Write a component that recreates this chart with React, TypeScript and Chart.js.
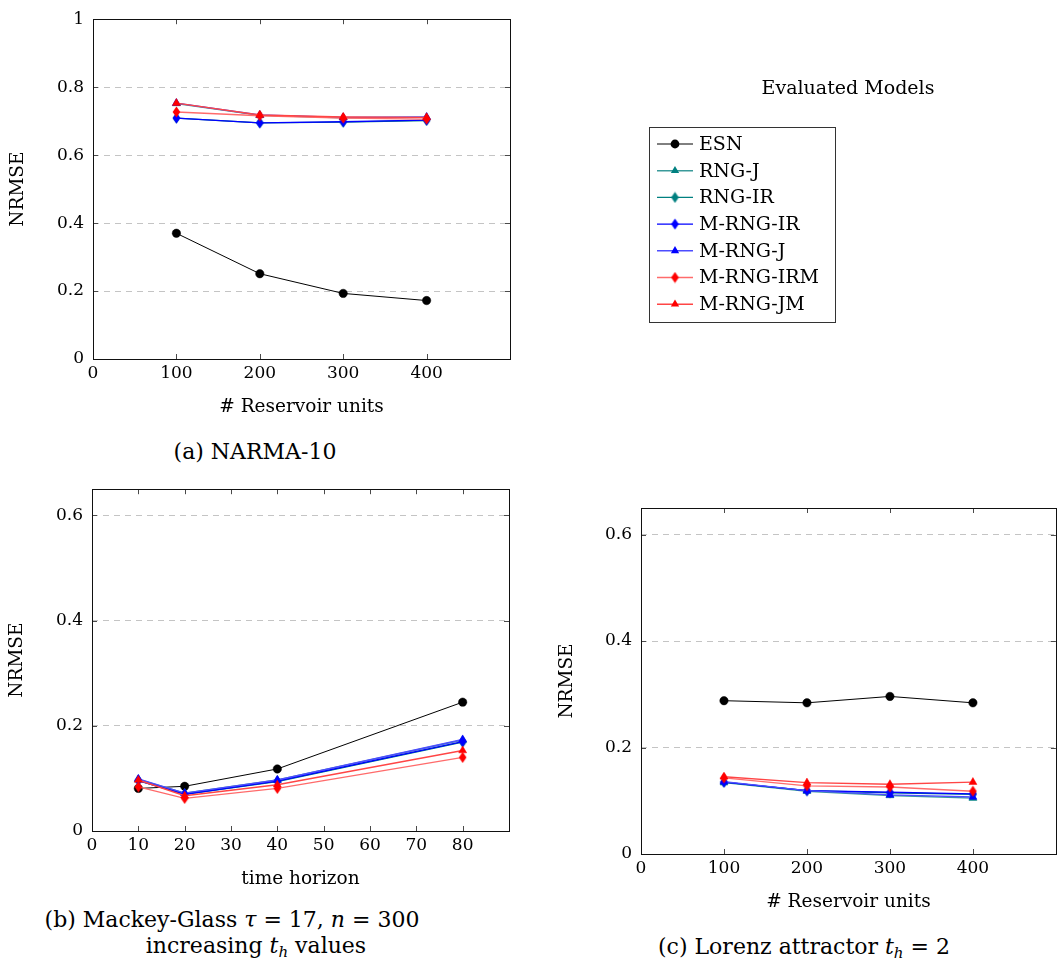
import React, { useEffect, useRef } from 'react';
import { Chart, registerables } from 'chart.js';

Chart.register(...registerables);

// ---------------- DATA ----------------
const SERIES_NAMES = ['ESN', 'RNG-J', 'RNG-IR', 'M-RNG-IR', 'M-RNG-J', 'M-RNG-IRM', 'M-RNG-JM'];

// (a) NARMA-10, x = # reservoir units
const narmaUnits = [100, 200, 300, 400];
const narmaESN = [0.370, 0.251, 0.193, 0.172];
const narmaRNGJ = [0.752, 0.717, 0.710, 0.711];
const narmaRNGIR = [0.709, 0.695, 0.697, 0.702];
const narmaMRNGIR = [0.709, 0.695, 0.698, 0.703];
const narmaMRNGJ = [0.753, 0.718, 0.711, 0.712];
const narmaMRNGIRM = [0.727, 0.716, 0.709, 0.706];
const narmaMRNGJM = [0.753, 0.718, 0.712, 0.711];

// (b) Mackey-Glass, x = time horizon
const mgHorizon = [10, 20, 40, 80];
const mgESN = [0.081, 0.085, 0.118, 0.245];
const mgRNGJ = [0.098, 0.072, 0.097, 0.173];
const mgRNGIR = [0.096, 0.070, 0.094, 0.169];
const mgMRNGIR = [0.096, 0.070, 0.095, 0.170];
const mgMRNGJ = [0.099, 0.072, 0.097, 0.174];
const mgMRNGIRM = [0.084, 0.062, 0.081, 0.140];
const mgMRNGJM = [0.097, 0.067, 0.088, 0.153];

// (c) Lorenz, x = # reservoir units
const lorenzUnits = [100, 200, 300, 400];
const lorenzESN = [0.288, 0.284, 0.296, 0.284];
const lorenzRNGJ = [0.134, 0.118, 0.110, 0.105];
const lorenzRNGIR = [0.135, 0.119, 0.115, 0.112];
const lorenzMRNGIR = [0.135, 0.119, 0.116, 0.113];
const lorenzMRNGJ = [0.136, 0.119, 0.111, 0.107];
const lorenzMRNGIRM = [0.143, 0.128, 0.126, 0.118];
const lorenzMRNGJM = [0.145, 0.134, 0.131, 0.135];

// tick labels
const narmaYTicks = [0, 0.2, 0.4, 0.6, 0.8, 1];
const smallYTicks = [0, 0.2, 0.4, 0.6];
const unitsXTicks = [0, 100, 200, 300, 400];
const horizonXTicks = [0, 10, 20, 30, 40, 50, 60, 70, 80];

// ---------------- STYLES ----------------
const STYLES = [
  { line: '#000000', mark: '#000000', shape: 'circle', width: 1 },
  { line: '#3a9a9a', mark: '#008080', shape: 'triangle', width: 1.4 },
  { line: '#008080', mark: '#008080', shape: 'diamond', width: 1.4 },
  { line: '#0000ff', mark: '#0000ff', shape: 'diamond', width: 1.4 },
  { line: '#4d4dff', mark: '#0000ff', shape: 'triangle', width: 1.4 },
  { line: '#ff6b6b', mark: '#ff0000', shape: 'diamond', width: 1.4 },
  { line: '#ff4545', mark: '#ff0000', shape: 'triangle', width: 1.4 },
];

const FONT = '"DejaVu Serif", "Liberation Serif", serif';
const TICK_SIZE = 17;
const TITLE_SIZE = 18.5;
const LEGEND_SIZE = 19;
const CAPTION_SIZE = 22;

const diamondCache: Record<string, HTMLCanvasElement> = {};
function diamond(color: string): HTMLCanvasElement {
  if (diamondCache[color]) return diamondCache[color];
  const c = document.createElement('canvas');
  c.width = 9;
  c.height = 12;
  const ctx = c.getContext('2d')!;
  ctx.fillStyle = color;
  ctx.beginPath();
  ctx.moveTo(4.5, 0.5);
  ctx.lineTo(8.3, 6);
  ctx.lineTo(4.5, 11.5);
  ctx.lineTo(0.7, 6);
  ctx.closePath();
  ctx.fill();
  diamondCache[color] = c;
  return c;
}

function pointStyleFor(i: number): any {
  const st = STYLES[i];
  return st.shape === 'diamond' ? diamond(st.mark) : st.shape;
}

function drawMarker(ctx: CanvasRenderingContext2D, i: number, x: number, y: number) {
  const st = STYLES[i];
  ctx.fillStyle = st.mark;
  if (st.shape === 'circle') {
    ctx.beginPath();
    ctx.arc(x, y, 4.4, 0, Math.PI * 2);
    ctx.fill();
  } else if (st.shape === 'triangle') {
    const r = 4.8;
    ctx.beginPath();
    for (let k = 0; k < 3; k++) {
      const a = (k * 2 * Math.PI) / 3;
      const px = x + Math.sin(a) * r;
      const py = y - Math.cos(a) * r;
      if (k === 0) ctx.moveTo(px, py);
      else ctx.lineTo(px, py);
    }
    ctx.closePath();
    ctx.fill();
  } else {
    const img = diamond(st.mark);
    ctx.drawImage(img, x - img.width / 2, y - img.height / 2);
  }
}

// ---------------- PLUGINS ----------------
const framePlugin = {
  id: 'pgfFrame',
  afterDraw(chart: any) {
    const { ctx, chartArea: a } = chart;
    const xs = chart.scales.x;
    const ys = chart.scales.y;
    ctx.save();
    ctx.lineWidth = 1;
    ctx.strokeStyle = '#4a4a4a';
    ctx.setLineDash([]);
    const seg = (x1: number, y1: number, x2: number, y2: number) => {
      ctx.beginPath();
      ctx.moveTo(x1, y1);
      ctx.lineTo(x2, y2);
      ctx.stroke();
    };
    for (const t of xs.ticks) {
      const px = Math.round(xs.getPixelForValue(t.value)) + 0.5;
      seg(px, a.bottom, px, a.bottom - 5);
      seg(px, a.top, px, a.top + 5);
    }
    for (const t of ys.ticks) {
      const py = Math.round(ys.getPixelForValue(t.value)) + 0.5;
      seg(a.left, py, a.left + 5, py);
      seg(a.right, py, a.right - 5, py);
    }
    ctx.strokeStyle = '#111111';
    ctx.strokeRect(Math.round(a.left) + 0.5, Math.round(a.top) + 0.5, Math.round(a.right - a.left), Math.round(a.bottom - a.top));
    ctx.restore();
  },
};

const legendPlugin = {
  id: 'pgfLegend',
  afterDraw(chart: any) {
    const ctx: CanvasRenderingContext2D = chart.ctx;
    ctx.save();
    ctx.font = `${LEGEND_SIZE}px ${FONT}`;
    ctx.fillStyle = '#000';
    ctx.textBaseline = 'middle';
    ctx.textAlign = 'center';
    ctx.fillText('Evaluated Models', 848, 89);
    ctx.strokeStyle = '#333';
    ctx.lineWidth = 1;
    ctx.strokeRect(649.5, 127.5, 186, 195);
    ctx.textAlign = 'left';
    chart.data.datasets.forEach((ds: any, i: number) => {
      const y = 144 + i * 26.7;
      ctx.strokeStyle = STYLES[i].line;
      ctx.lineWidth = STYLES[i].width;
      ctx.beginPath();
      ctx.moveTo(657, y);
      ctx.lineTo(693, y);
      ctx.stroke();
      drawMarker(ctx, i, 675, y);
      ctx.fillStyle = '#000';
      ctx.fillText(ds.label, 699, y + 1);
    });
    ctx.restore();
  },
};

// ---------------- CONFIG ----------------
type Area = { left: number; top: number; right: number; bottom: number };

function makeConfig(opts: {
  xVals: number[];
  series: number[][];
  xMax: number;
  xStep: number;
  xTicks: number[];
  yMax: number;
  yStep: number;
  yTicks: number[];
  xTitle: string;
  area: Area;
  w: number;
  h: number;
  xTitlePad: number;
  yTitlePad: number;
  legend: boolean;
}): any {
  const { area, w, h } = opts;
  const datasets = opts.series.map((vals, i) => ({
    label: SERIES_NAMES[i],
    data: opts.xVals.map((x, j) => ({ x, y: vals[j] })),
    borderColor: STYLES[i].line,
    backgroundColor: STYLES[i].mark,
    borderWidth: STYLES[i].width,
    pointStyle: pointStyleFor(i),
    pointRadius: STYLES[i].shape === 'circle' ? 4.2 : 4.6,
    pointBackgroundColor: STYLES[i].mark,
    pointBorderColor: STYLES[i].mark,
    pointBorderWidth: 0.5,
    tension: 0,
    fill: false,
    order: 20 - i,
  }));
  const xAllowed = new Set(opts.xTicks.map((v) => Math.round(v * 1000)));
  const yAllowed = new Set(opts.yTicks.map((v) => Math.round(v * 1000)));
  return {
    type: 'line',
    data: { datasets },
    plugins: opts.legend ? [framePlugin, legendPlugin] : [framePlugin],
    options: {
      animation: false,
      responsive: false,
      devicePixelRatio: 1,
      events: [],
      layout: { padding: { left: 0, top: area.top, right: w - area.right, bottom: 0 } },
      plugins: { legend: { display: false }, tooltip: { enabled: false }, title: { display: false } },
      scales: {
        x: {
          type: 'linear',
          min: 0,
          max: opts.xMax,
          afterBuildTicks: (s: any) => {
            s.ticks = s.ticks.filter((t: any) => xAllowed.has(Math.round(t.value * 1000)));
          },
          afterFit: (s: any) => {
            s.height = h - area.bottom;
          },
          ticks: {
            stepSize: opts.xStep,
            autoSkip: false,
            maxRotation: 0,
            padding: 4,
            color: '#000',
            font: { family: FONT, size: TICK_SIZE },
            callback: (v: any) => String(v),
          },
          grid: { display: false, drawTicks: false },
          border: { display: false },
          title: {
            display: true,
            text: opts.xTitle,
            color: '#000',
            font: { family: FONT, size: TITLE_SIZE },
            padding: { top: 0, bottom: opts.xTitlePad },
          },
        },
        y: {
          type: 'linear',
          min: 0,
          max: opts.yMax,
          afterBuildTicks: (s: any) => {
            s.ticks = s.ticks.filter((t: any) => yAllowed.has(Math.round(t.value * 1000)));
          },
          afterFit: (s: any) => {
            s.width = area.left;
          },
          ticks: {
            stepSize: opts.yStep,
            autoSkip: false,
            padding: 9,
            color: '#000',
            font: { family: FONT, size: TICK_SIZE },
            callback: (v: any) => String(Math.round(v * 100) / 100),
          },
          grid: { display: true, drawTicks: false, color: '#c4c4c4', lineWidth: 1 },
          border: { display: false, dash: [6, 5] },
          title: {
            display: true,
            text: 'NRMSE',
            color: '#000',
            font: { family: FONT, size: TITLE_SIZE },
            padding: { top: opts.yTitlePad, bottom: 0 },
          },
        },
      },
    },
  };
}

function ChartBox(props: { left: number; top: number; width: number; height: number; make: () => any }) {
  const ref = useRef<HTMLCanvasElement>(null);
  useEffect(() => {
    const chart = new Chart(ref.current!, props.make());
    return () => chart.destroy();
  }, []);
  return (
    <canvas
      ref={ref}
      width={props.width}
      height={props.height}
      style={{ position: 'absolute', left: props.left, top: props.top, width: props.width, height: props.height }}
    />
  );
}

const capStyle = (cx: number, cy: number): React.CSSProperties => ({
  position: 'absolute',
  left: cx - 250,
  width: 500,
  top: cy - 13,
  height: 26,
  lineHeight: '26px',
  textAlign: 'center',
  fontFamily: FONT,
  fontSize: CAPTION_SIZE,
  color: '#000',
  whiteSpace: 'nowrap',
});

const I = (p: { children: any }) => <span style={{ fontStyle: 'italic' }}>{p.children}</span>;
const subStyle: React.CSSProperties = { fontSize: 15, fontStyle: 'italic', verticalAlign: '-4px', lineHeight: 0 };

export default function App() {
  return (
    <div style={{ position: 'absolute', left: 0, top: 0, width: 1061, height: 963, background: '#fff', overflow: 'hidden' }}>
      <ChartBox
        left={0}
        top={0}
        width={1061}
        height={430}
        make={() =>
          makeConfig({
            xVals: narmaUnits,
            series: [narmaESN, narmaRNGJ, narmaRNGIR, narmaMRNGIR, narmaMRNGJ, narmaMRNGIRM, narmaMRNGJM],
            xMax: 500,
            xStep: 100,
            xTicks: unitsXTicks,
            yMax: 1,
            yStep: 0.2,
            yTicks: narmaYTicks,
            xTitle: '# Reservoir units',
            area: { left: 93, top: 12, right: 510, bottom: 359 },
            w: 1061,
            h: 430,
            xTitlePad: 12,
            yTitlePad: 7,
            legend: true,
          })
        }
      />
      <ChartBox
        left={0}
        top={470}
        width={530}
        height={430}
        make={() =>
          makeConfig({
            xVals: mgHorizon,
            series: [mgESN, mgRNGJ, mgRNGIR, mgMRNGIR, mgMRNGJ, mgMRNGIRM, mgMRNGJM],
            xMax: 90,
            xStep: 10,
            xTicks: horizonXTicks,
            yMax: 0.65,
            yStep: 0.2,
            yTicks: smallYTicks,
            xTitle: 'time horizon',
            area: { left: 92, top: 15, right: 509, bottom: 361 },
            w: 530,
            h: 430,
            xTitlePad: 10,
            yTitlePad: 6.5,
            legend: false,
          })
        }
      />
      <ChartBox
        left={540}
        top={470}
        width={521}
        height={450}
        make={() =>
          makeConfig({
            xVals: lorenzUnits,
            series: [lorenzESN, lorenzRNGJ, lorenzRNGIR, lorenzMRNGIR, lorenzMRNGJ, lorenzMRNGIRM, lorenzMRNGJM],
            xMax: 500,
            xStep: 100,
            xTicks: unitsXTicks,
            yMax: 0.65,
            yStep: 0.2,
            yTicks: smallYTicks,
            xTitle: '# Reservoir units',
            area: { left: 101, top: 38, right: 518, bottom: 384 },
            w: 521,
            h: 450,
            xTitlePad: 7,
            yTitlePad: 16,
            legend: false,
          })
        }
      />
      <div style={capStyle(255, 452)}>(a) NARMA-10</div>
      <div style={capStyle(232, 920)}>
        (b) Mackey-Glass <I>τ</I> = 17, <I>n</I> = 300
      </div>
      <div style={capStyle(256, 946)}>
        increasing <I>t</I>
        <sub style={subStyle}>h</sub> values
      </div>
      <div style={capStyle(804, 947)}>
        (c) Lorenz attractor <I>t</I>
        <sub style={subStyle}>h</sub> = 2
      </div>
    </div>
  );
}
